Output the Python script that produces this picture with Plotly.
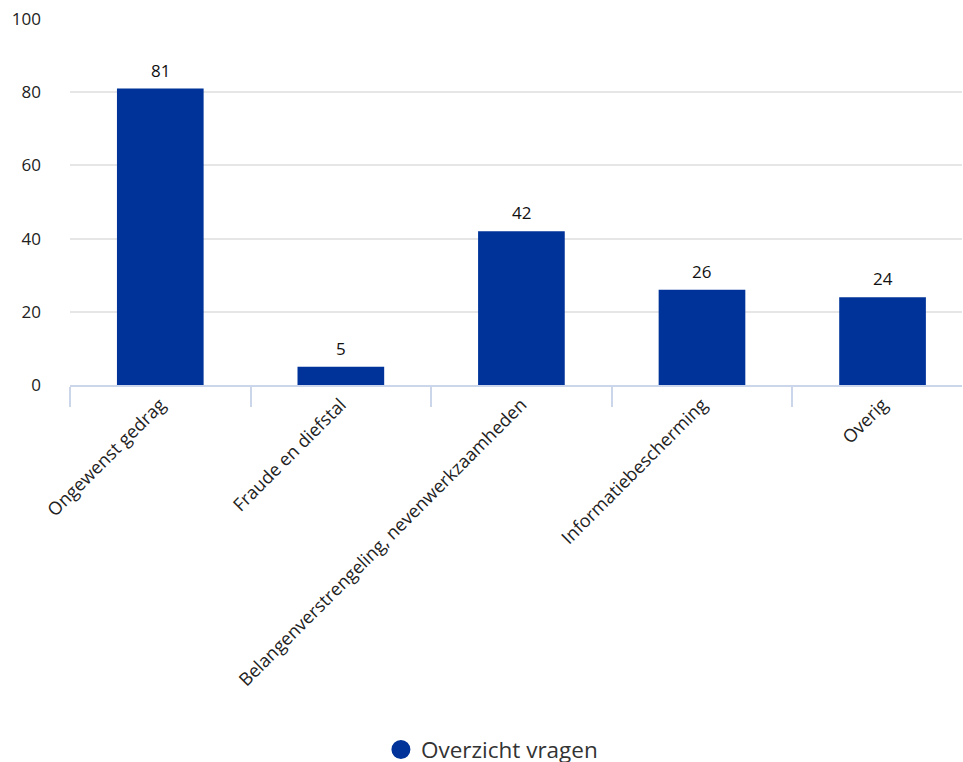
import plotly.graph_objects as go

categories = [
    "Ongewenst gedrag",
    "Fraude en diefstal",
    "Belangenverstrengeling, nevenwerkzaamheden",
    "Informatiebescherming",
    "Overig",
]
values = [81, 5, 42, 26, 24]
series_name = "Overzicht vragen"
y_ticks = [0, 20, 40, 60, 80, 100]

BAR_COLOR = "#003399"
FONT = "Open Sans, Noto Sans, sans-serif"

fig = go.Figure()

fig.add_trace(go.Bar(
    x=categories,
    y=values,
    width=0.48,
    marker=dict(color=BAR_COLOR, line=dict(width=0)),
    showlegend=False,
    hoverinfo="x+y",
))

# value labels above each bar
for cat, val in zip(categories, values):
    fig.add_annotation(
        x=cat, y=val, xref="x", yref="y",
        text=str(val), showarrow=False,
        yanchor="bottom", yshift=5,
        font=dict(size=17, color="#111111", family=FONT),
    )

# legend entry with a round marker
fig.add_trace(go.Scatter(
    x=[None], y=[None],
    mode="markers",
    marker=dict(symbol="circle", size=16, color=BAR_COLOR,
                line=dict(width=3, color=BAR_COLOR)),
    name=series_name,
    showlegend=True,
))

fig.update_layout(
    width=963,
    height=762,
    margin=dict(l=70, r=1, t=19, b=377, autoexpand=False),
    paper_bgcolor="white",
    plot_bgcolor="white",
    font=dict(family=FONT, size=17, color="#222222"),
    legend=dict(
        orientation="h",
        x=0.473, xanchor="center",
        y=-0.997, yanchor="middle",
        yref="paper",
        font=dict(size=22.5, color="#333333", family=FONT),
        itemsizing="trace",
    ),
    xaxis=dict(
        type="category",
        range=[-0.5, 4.44],
        automargin=False,
        showgrid=False,
        showline=True,
        linecolor="#ccd6eb",
        linewidth=2,
        ticks="outside",
        tickson="boundaries",
        ticklen=20,
        tickcolor="#ccd6eb",
        tickwidth=2,
        tickangle=-45,
        tickfont=dict(size=18, color="#222222", family=FONT),
    ),
    yaxis=dict(
        range=[0, 100],
        automargin=False,
        tickvals=y_ticks,
        showgrid=True,
        gridcolor="#e6e6e6",
        gridwidth=2,
        zeroline=False,
        showline=False,
        ticks="",
        tickfont=dict(size=17, color="#222222", family=FONT),
        ticklabelstandoff=28,
    ),
)

fig.write_html("out.html")
